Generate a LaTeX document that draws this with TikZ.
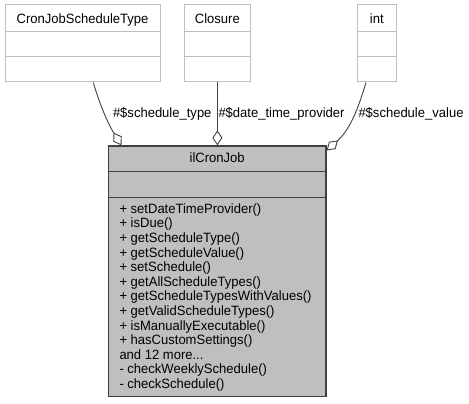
\documentclass[tikz,border=0pt]{standalone}
\usepackage{fontspec}
\setmainfont{Liberation Sans}[FakeStretch=0.965]
\usetikzlibrary{arrows.meta}
\definecolor{lightedge}{HTML}{BFBFBF}
\definecolor{darkedge}{HTML}{404040}
\definecolor{mainfill}{HTML}{BFBFBF}
\begin{document}
\begin{tikzpicture}[x=1pt,y=-1pt,
  txt/.style={inner sep=0pt,anchor=base,font=\fontsize{13.5}{14.5}\selectfont},
  member/.style={inner sep=0pt,anchor=base west,font=\fontsize{13.5}{14.5}\selectfont},
  topbox/.style={draw=lightedge,line width=1pt,fill=white,inner sep=0pt,minimum height=77pt},
  mainbox/.style={draw=darkedge,line width=1.2pt,fill=mainfill,inner sep=0pt},
  divl/.style={draw=lightedge,line width=1pt},
  divd/.style={draw=darkedge,line width=1.2pt},
  edge/.style={draw=darkedge,line width=0.9pt,-{Diamond[fill=white,length=15pt,width=10pt]}}]
\useasboundingbox (0,0) rectangle (469,404);
% top classes
\node[topbox,minimum width=155pt] (cjst) at (82.5,43.5) {};
\draw[divl] (cjst.west |- 0,31.5) -- (cjst.east |- 0,31.5);
\draw[divl] (cjst.west |- 0,57) -- (cjst.east |- 0,57);
\node[txt] (cjstT) at (82.5,23.3) {CronJobScheduleType};
\node[topbox,minimum width=66.7pt] (cl) at (217.35,43.5) {};
\draw[divl] (cl.west |- 0,31.5) -- (cl.east |- 0,31.5);
\draw[divl] (cl.west |- 0,57) -- (cl.east |- 0,57);
\node[txt] (clT) at (217.35,23.3) {Closure};
\node[topbox,minimum width=38.3pt] (int) at (376.85,43.5) {};
\draw[divl] (int.west |- 0,31.5) -- (int.east |- 0,31.5);
\draw[divl] (int.west |- 0,57) -- (int.east |- 0,57);
\node[txt] (intT) at (376.85,23.3) {int};
% main class
\node[mainbox,minimum width=217.7pt,minimum height=250.5pt] (il) at (217.2,271.25) {};
\draw[divd] (il.west |- 0,171.7) -- (il.east |- 0,171.7);
\draw[divd] (il.west |- 0,197.3) -- (il.east |- 0,197.3);
\node[txt] (ilT) at (217.2,162) {ilCronJob};
\foreach \t [count=\i from 0] in {+ setDateTimeProvider(),+ isDue(),+ getScheduleType(),+ getScheduleValue(),+ setSchedule(),+ getAllScheduleTypes(),+ getScheduleTypesWithValues(),+ getValidScheduleTypes(),+ isManuallyExecutable(),+ hasCustomSettings(),and 12 more.{}.{}.,- checkWeeklySchedule(),- checkSchedule()}
  \node[member] (m\i) at (119.3,213.3+14.6*\i) {\t};
% connectors
\draw[edge] ([xshift=10.8pt]cjst.south) .. controls (99,102) and (107,122) .. ([xshift=13.7pt]il.north west);
\draw[edge] (cl.south) -- (cl.south |- il.north);
\draw[edge] ([xshift=-10.8pt]int.south) .. controls (360,102) and (352,128) .. ([yshift=-5pt]il.north east);
% labels
\node[member] (l1) at (112.8,117.4) {\#\$schedule\_type};
\node[member] (l2) at (218.3,117.4) {\#\$date\_time\_provider};
\node[member] (l3) at (358.3,117.4) {\#\$schedule\_value};
\end{tikzpicture}
\end{document}
